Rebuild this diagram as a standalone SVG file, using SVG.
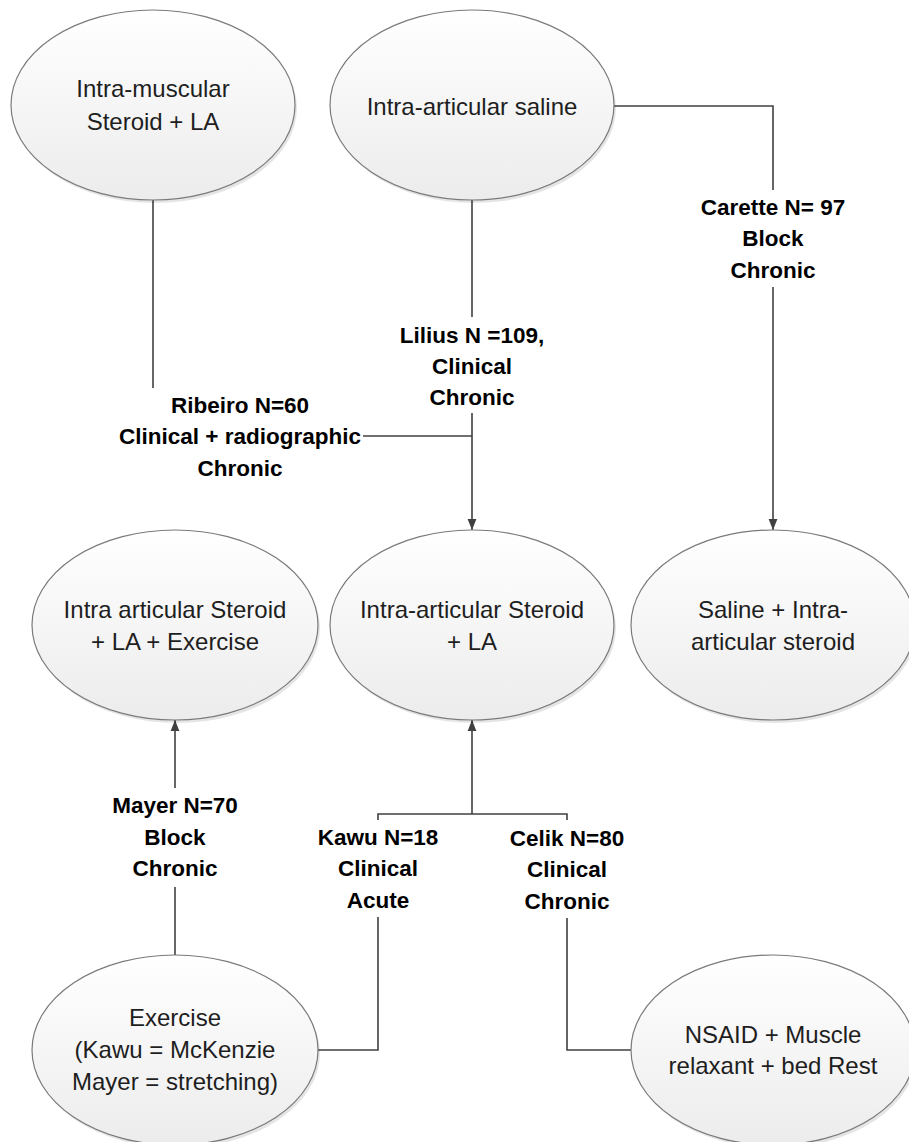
<svg xmlns="http://www.w3.org/2000/svg" width="909" height="1142" viewBox="0 0 909 1142">
<style>
.node ellipse.body{fill:url(#g);stroke:#7a7a7a;stroke-width:1.2}
.node ellipse.sh{fill:#000;opacity:0.1}
.nt{font-family:"Liberation Sans",Arial,sans-serif;font-size:24px;fill:#1e1e1e;text-anchor:middle}
.lb{font-family:"Liberation Sans",Arial,sans-serif;font-size:22.5px;font-weight:bold;fill:#000;text-anchor:middle}
.c{fill:none;stroke:#404040;stroke-width:1.6}
</style>
<defs>
<linearGradient id="g" x1="0" y1="0" x2="0" y2="1">
<stop offset="0" stop-color="#ffffff"/>
<stop offset="1" stop-color="#ececec"/>
</linearGradient>
<marker id="ah" viewBox="0 0 10 10" refX="10" refY="5" markerWidth="11" markerHeight="11" markerUnits="userSpaceOnUse" orient="auto">
<path d="M0,1 L10,5 L0,9 z" fill="#404040"/>
</marker>
</defs>
<rect width="909" height="1142" fill="#fff"/>

<g id="connectors">
<path class="c" d="M153,200 V388"/>
<path class="c" d="M472,200 V317"/>
<path class="c" d="M472,413 V530" marker-end="url(#ah)"/>
<path class="c" d="M363,436 H472"/>
<path class="c" d="M614,106 H773 V190"/>
<path class="c" d="M773,287 V530" marker-end="url(#ah)"/>
<path class="c" d="M175,788 V720" marker-end="url(#ah)"/>
<path class="c" d="M175,955 V887"/>
<path class="c" d="M472,814 V720" marker-end="url(#ah)"/>
<path class="c" d="M378,820 V814 H567 V820"/>
<path class="c" d="M378,917 V1050 H318"/>
<path class="c" d="M567,918 V1050 H632"/>
</g>

<g id="labels">
<text class="lb" x="773" y="215">Carette N= 97</text>
<text class="lb" x="773" y="246">Block</text>
<text class="lb" x="773" y="278">Chronic</text>
<text class="lb" x="472" y="343">Lilius N =109,</text>
<text class="lb" x="472" y="374">Clinical</text>
<text class="lb" x="472" y="405">Chronic</text>
<text class="lb" x="240" y="413">Ribeiro N=60</text>
<text class="lb" x="240" y="444">Clinical + radiographic</text>
<text class="lb" x="240" y="476">Chronic</text>
<text class="lb" x="175" y="813">Mayer N=70</text>
<text class="lb" x="175" y="845">Block</text>
<text class="lb" x="175" y="876">Chronic</text>
<text class="lb" x="378" y="845">Kawu N=18</text>
<text class="lb" x="378" y="876">Clinical</text>
<text class="lb" x="378" y="908">Acute</text>
<text class="lb" x="567" y="846">Celik N=80</text>
<text class="lb" x="567" y="877">Clinical</text>
<text class="lb" x="567" y="909">Chronic</text>
</g>

<g id="n1" class="node">
<ellipse class="sh" cx="155" cy="108" rx="142" ry="95"/>
<ellipse class="body" cx="153" cy="105" rx="142" ry="95"/>
<text class="nt" x="153" y="97">Intra-muscular</text>
<text class="nt" x="153" y="130">Steroid + LA</text>
</g>
<g id="n2" class="node">
<ellipse class="sh" cx="474" cy="108" rx="142" ry="95"/>
<ellipse class="body" cx="472" cy="105" rx="142" ry="95"/>
<text class="nt" x="472" y="115">Intra-articular saline</text>
</g>
<g id="n3" class="node">
<ellipse class="sh" cx="177" cy="628" rx="143" ry="95"/>
<ellipse class="body" cx="175" cy="625" rx="143" ry="95"/>
<text class="nt" x="175" y="618">Intra articular Steroid</text>
<text class="nt" x="175" y="650">+ LA + Exercise</text>
</g>
<g id="n4" class="node">
<ellipse class="sh" cx="474" cy="628" rx="142" ry="95"/>
<ellipse class="body" cx="472" cy="625" rx="142" ry="95"/>
<text class="nt" x="472" y="618">Intra-articular Steroid</text>
<text class="nt" x="472" y="650">+ LA</text>
</g>
<g id="n5" class="node">
<ellipse class="sh" cx="775" cy="628" rx="142" ry="95"/>
<ellipse class="body" cx="773" cy="625" rx="142" ry="95"/>
<text class="nt" x="773" y="618">Saline + Intra-</text>
<text class="nt" x="773" y="650">articular steroid</text>
</g>
<g id="n6" class="node">
<ellipse class="sh" cx="177" cy="1053" rx="143" ry="95"/>
<ellipse class="body" cx="175" cy="1050" rx="143" ry="95"/>
<text class="nt" x="175" y="1026">Exercise</text>
<text class="nt" x="175" y="1058">(Kawu = McKenzie</text>
<text class="nt" x="175" y="1090">Mayer = stretching)</text>
</g>
<g id="n7" class="node">
<ellipse class="sh" cx="775" cy="1053" rx="142" ry="95"/>
<ellipse class="body" cx="773" cy="1050" rx="142" ry="95"/>
<text class="nt" x="773" y="1043">NSAID + Muscle</text>
<text class="nt" x="773" y="1074">relaxant + bed Rest</text>
</g>
</svg>
